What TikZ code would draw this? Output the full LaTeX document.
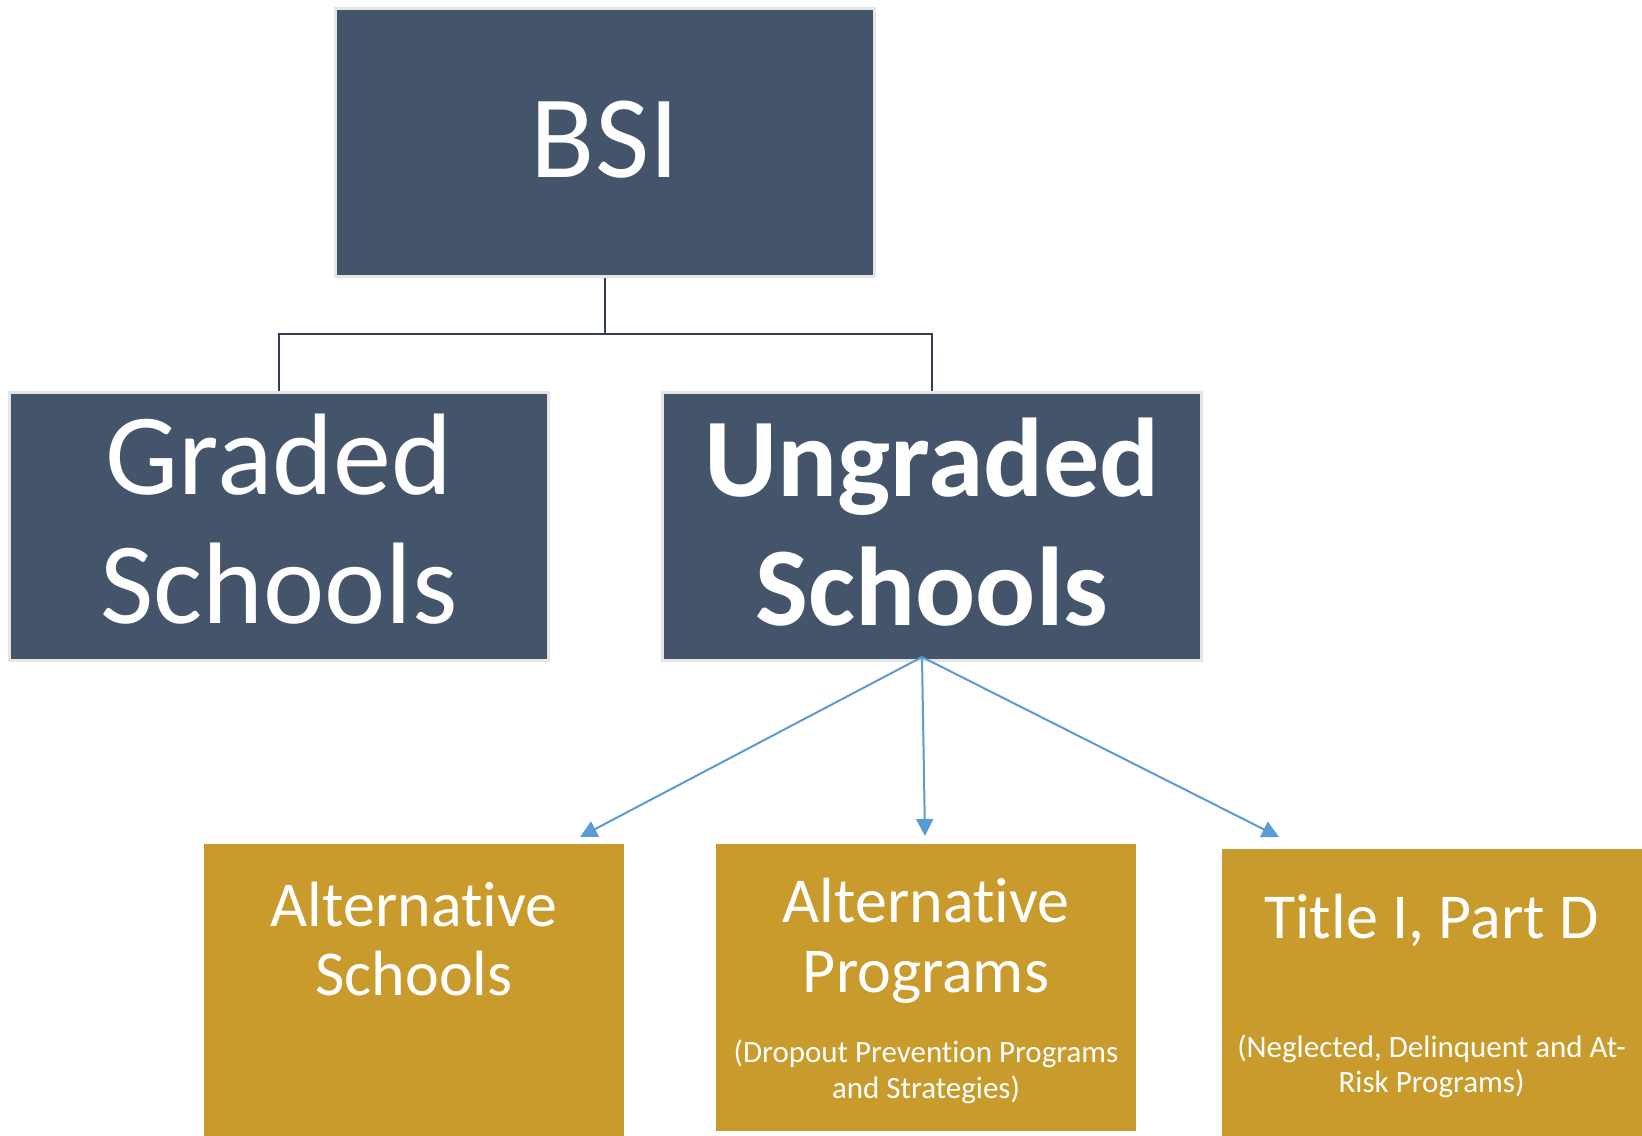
\documentclass[tikz,border=0pt]{standalone}
\usepackage{fontspec}
\setmainfont{Carlito}[Ligatures=NoCommon]
\usetikzlibrary{arrows.meta}
\definecolor{slate}{HTML}{44546A}
\definecolor{gold}{HTML}{C99B2C}
\definecolor{feedblue}{HTML}{5B9BD5}
\definecolor{treeline}{HTML}{333F50}
\definecolor{rim}{HTML}{E6E6E6}
\newcommand\stacklines[1]{\begin{tabular}[t]{@{}c@{}}#1\end{tabular}}

\tikzset{
  darkbox/.style={draw=rim, line width=1.5pt, fill=slate,
    minimum width=269.5pt, minimum height=134pt, inner sep=0pt},
  goldbox/.style={fill=gold, minimum width=210pt, inner sep=0pt},
  boxtext/.style={text=white, anchor=base, inner sep=0pt},
  tree/.style={draw=treeline, line width=1.25pt},
  feed/.style={draw=feedblue, line width=1pt, -{Triangle[width=8.5pt,length=8.5pt]}},
}

\begin{document}
\begin{tikzpicture}[x=0.5pt,y=-0.5pt]
            \useasboundingbox (0,0) rectangle (1642,1135);

            % top level
            \node[darkbox] (bsi) at (605,142.5) {};
            \node[darkbox] (graded) at (279,526) {};
            \node[darkbox] (ungraded) at (932,526) {};

            \node[boxtext, font=\fontsize{59}{64.5}\selectfont] (bsiT) at (605,177) {BSI};
            \node[boxtext, font=\fontsize{58}{64.5}\selectfont] (gradedT) at (279,494)
                {\stacklines{Graded\\Schools}};
            \node[boxtext, font=\fontsize{56}{64.5}\selectfont\bfseries] (ungradedT) at (932,496)
                {\stacklines{Ungraded\\Schools}};

            \coordinate (fork) at (605,334);
            \draw[tree] (bsi.south) -- (fork) -| (graded.north);
            \draw[tree] (fork) -| (ungraded.north);

            % ungraded branches
            \node[goldbox, minimum height=146pt] (alts) at (414,990) {};
            \node[goldbox, minimum height=143.5pt] (altp) at (926,987.5) {};
            \node[goldbox, minimum height=143.5pt] (titled) at (1431.5,992.5) {};

            \node[boxtext, font=\fontsize{32}{34.5}\selectfont] (altsT) at (414,926)
                {\stacklines{Alternative\\Schools}};
            \node[boxtext, font=\fontsize{32}{35}\selectfont] (altpT) at (926,922)
                {\stacklines{Alternative\\Programs}};
            \node[boxtext, font=\fontsize{15.5}{18}\selectfont] (altpS) at (926,1062)
                {\stacklines{(Dropout Prevention Programs\\and Strategies)}};
            \node[boxtext, font=\fontsize{32}{35}\selectfont] (titledT) at (1431.5,938)
                {Title I, Part D};
            \node[boxtext, font=\fontsize{15.5}{17.5}\selectfont] (titledS) at (1431.5,1057)
                {\stacklines{(Neglected, Delinquent and At-\\Risk Programs)}};

            \coordinate (ufoot) at (922,657);
            \coordinate (altsTip) at (580,837);
            \coordinate (altpTip) at (925,836);
            \coordinate (titledTip) at (1279,837);
            \draw[feed] (ufoot) -- (altsTip);
            \draw[feed] (ufoot) -- (altpTip);
            \draw[feed] (ufoot) -- (titledTip);
\end{tikzpicture}
\end{document}
